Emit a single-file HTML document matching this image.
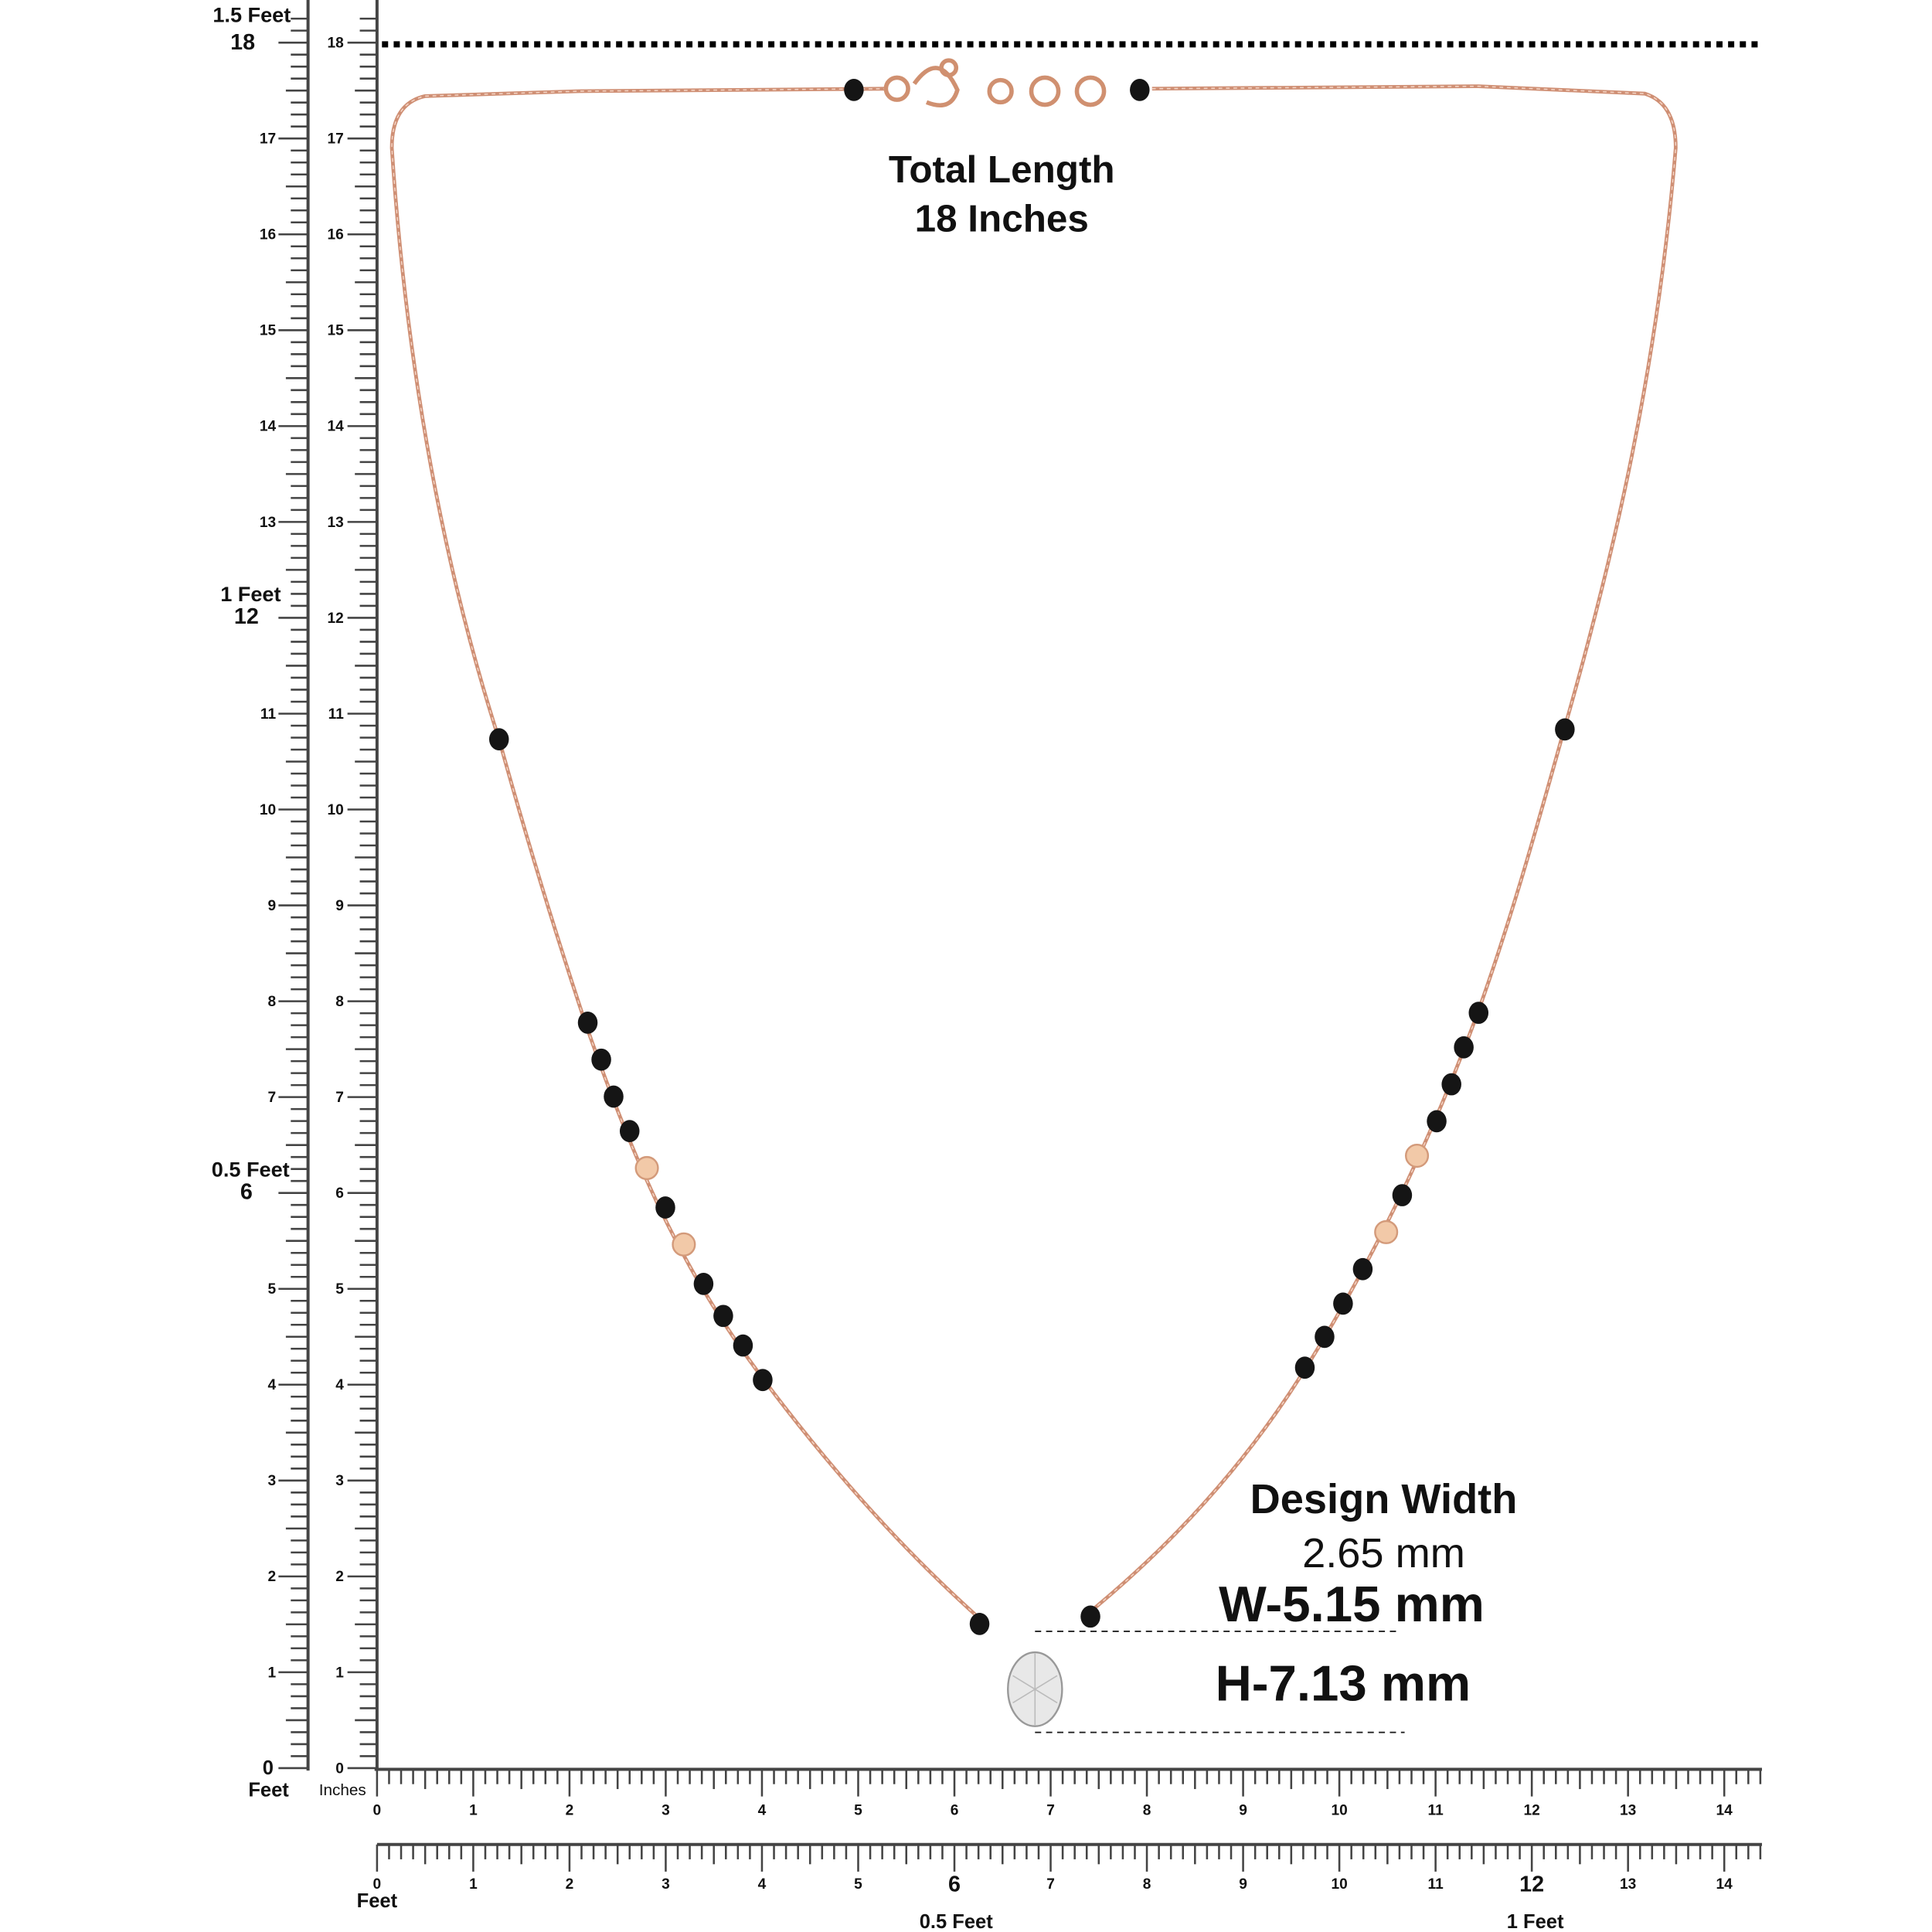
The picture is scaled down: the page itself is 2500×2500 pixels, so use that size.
<!DOCTYPE html>
<html><head><meta charset="utf-8"><style>
html,body{margin:0;padding:0;background:#fff;}
svg{display:block;}
text{font-family:"Liberation Sans",sans-serif;font-weight:bold;fill:#111;}
</style></head><body>
<svg id="s" width="2500" height="2500" viewBox="0 0 1568 1568" xmlns="http://www.w3.org/2000/svg">
<g id="rul" stroke="#444" stroke-width="1.6"></g>
<line x1="310" y1="36" x2="1430" y2="36" stroke="#000" stroke-width="5" stroke-dasharray="5,4.5"/>
<g id="lbl" font-size="12"></g>
<text x="236" y="18" font-size="17" text-anchor="end">1.5 Feet</text>
<text x="207" y="40" font-size="18" text-anchor="end">18</text>
<text x="228" y="488" font-size="17" text-anchor="end">1 Feet</text>
<text x="210" y="506" font-size="18" text-anchor="end">12</text>
<text x="235" y="955" font-size="17" text-anchor="end">0.5 Feet</text>
<text x="205" y="973" font-size="18" text-anchor="end">6</text>
<text x="222" y="1440" font-size="16" text-anchor="end">0</text>
<text x="218" y="1458" font-size="16" text-anchor="middle">Feet</text>
<text x="278" y="1457" font-size="13" text-anchor="middle" style="font-weight:normal">Inches</text>
<text x="306" y="1548" font-size="16" text-anchor="middle">Feet</text>
<text x="776" y="1565" font-size="16" text-anchor="middle">0.5 Feet</text>
<text x="1246" y="1565" font-size="16" text-anchor="middle">1 Feet</text>
<text x="813" y="148" font-size="31" text-anchor="middle">Total Length</text>
<text x="813" y="188" font-size="31" text-anchor="middle">18 Inches</text>
<text x="1123" y="1228" font-size="34" text-anchor="middle">Design Width</text>
<text x="1123" y="1272" font-size="34" text-anchor="middle" style="font-weight:normal">2.65 mm</text>
<text x="1097" y="1316" font-size="41" text-anchor="middle">W-5.15 mm</text>
<text x="1090" y="1380" font-size="41" text-anchor="middle">H-7.13 mm</text>
<line x1="840" y1="1324" x2="1135" y2="1324" stroke="#222" stroke-width="1.2" stroke-dasharray="5,4"/>
<line x1="840" y1="1406" x2="1140" y2="1406" stroke="#222" stroke-width="1.2" stroke-dasharray="5,4"/>
<g id="chain" fill="none" stroke="#cf8f74" stroke-width="3"></g>
<g id="beads"></g>
<g fill="none" stroke="#d09070" stroke-width="3.5">
<circle cx="728" cy="72" r="9"/><path d="M742 68 q20 -28 35 5 q-5 18 -25 10"/><circle cx="770" cy="55" r="6"/>
<circle cx="812" cy="74" r="9"/><circle cx="848" cy="74" r="11"/><circle cx="885" cy="74" r="11"/>
</g>
<ellipse cx="840" cy="1371" rx="22" ry="30" fill="#e8e8e8" stroke="#999" stroke-width="1.5"/>
<path d="M822 1360 L858 1382 M858 1360 L822 1382 M840 1342 L840 1400" stroke="#bbb" stroke-width="1"/>
</svg>
<script>
var NS="http://www.w3.org/2000/svg";
function el(p,t,a,txt){var e=document.createElementNS(NS,t);for(var k in a)e.setAttribute(k,a[k]);if(txt!==undefined)e.textContent=txt;p.appendChild(e);return e;}
var r=document.getElementById('rul'),L=document.getElementById('lbl');
el(r,'line',{x1:250,y1:0,x2:250,y2:1437,'stroke-width':2.5});
el(r,'line',{x1:306,y1:0,x2:306,y2:1437,'stroke-width':2.5});
el(r,'line',{x1:304,y1:1436,x2:1430,y2:1436,'stroke-width':2.5});
el(r,'line',{x1:306,y1:1497,x2:1430,y2:1497,'stroke-width':2.5});
var ys=77.8;
for(var i=0;i<=18*8+2;i++){var y=1435-i*ys/8;if(y<0)break;var len=i%8==0?24:(i%4==0?18:14);
 el(r,'line',{x1:250-len,y1:y,x2:250,y2:y});el(r,'line',{x1:306-len,y1:y,x2:306,y2:y});
 if(i%8==0){var n=i/8;if([0,6,12,18].indexOf(n)<0)el(L,'text',{x:224,y:y+4,'text-anchor':'end'},n);el(L,'text',{x:279,y:y+4,'text-anchor':'end'},n);}}
var xs=78.1;
for(var i=0;i<=14*8+3;i++){var x=306+i*xs/8;if(x>1430)break;var len=i%8==0?22:(i%4==0?16:12);
 el(r,'line',{x1:x,y1:1436,x2:x,y2:1436+len});el(r,'line',{x1:x,y1:1497,x2:x,y2:1497+len});
 if(i%8==0){var n=i/8;el(L,'text',{x:x,y:1473,'text-anchor':'middle'},n);
  if(n==6||n==12)el(L,'text',{x:x,y:1535,'text-anchor':'middle','font-size':18},n);else el(L,'text',{x:x,y:1533,'text-anchor':'middle'},n);}}
var c=document.getElementById('chain');
var paths=["M720 72 L470 74 L345 78 Q318 84 318 120 C330 300 360 460 405 600 C430 690 455 770 475 830 C520 960 560 1040 620 1120 C680 1200 740 1265 800 1318",
"M935 72 L1200 70 L1335 76 Q1360 84 1360 120 C1345 300 1310 450 1270 590 C1245 680 1225 750 1200 820 C1160 930 1110 1030 1060 1110 C1010 1190 950 1255 880 1312"];
paths.forEach(function(d){el(c,'path',{d:d});el(c,'path',{d:d,stroke:'#f3d2c2','stroke-width':1,'stroke-dasharray':'3,3'});});
var b=document.getElementById('beads');
[[693,73],[925,73],[405,600],[477,830],[488,860],[498,890],[511,918],[540,980],[571,1042],[587,1068],[603,1092],[619,1120],[795,1318],[885,1312],
[1270,592],[1200,822],[1188,850],[1178,880],[1166,910],[1138,970],[1106,1030],[1090,1058],[1075,1085],[1059,1110]].forEach(function(p){
el(b,'ellipse',{cx:p[0],cy:p[1],rx:8,ry:9,fill:'#151515'});});
[[525,948],[555,1010],[1150,938],[1125,1000]].forEach(function(p){el(b,'circle',{cx:p[0],cy:p[1],r:9,fill:'#f2c9a8',stroke:'#d39a7a','stroke-width':1.5});});
</script>
</body></html>
